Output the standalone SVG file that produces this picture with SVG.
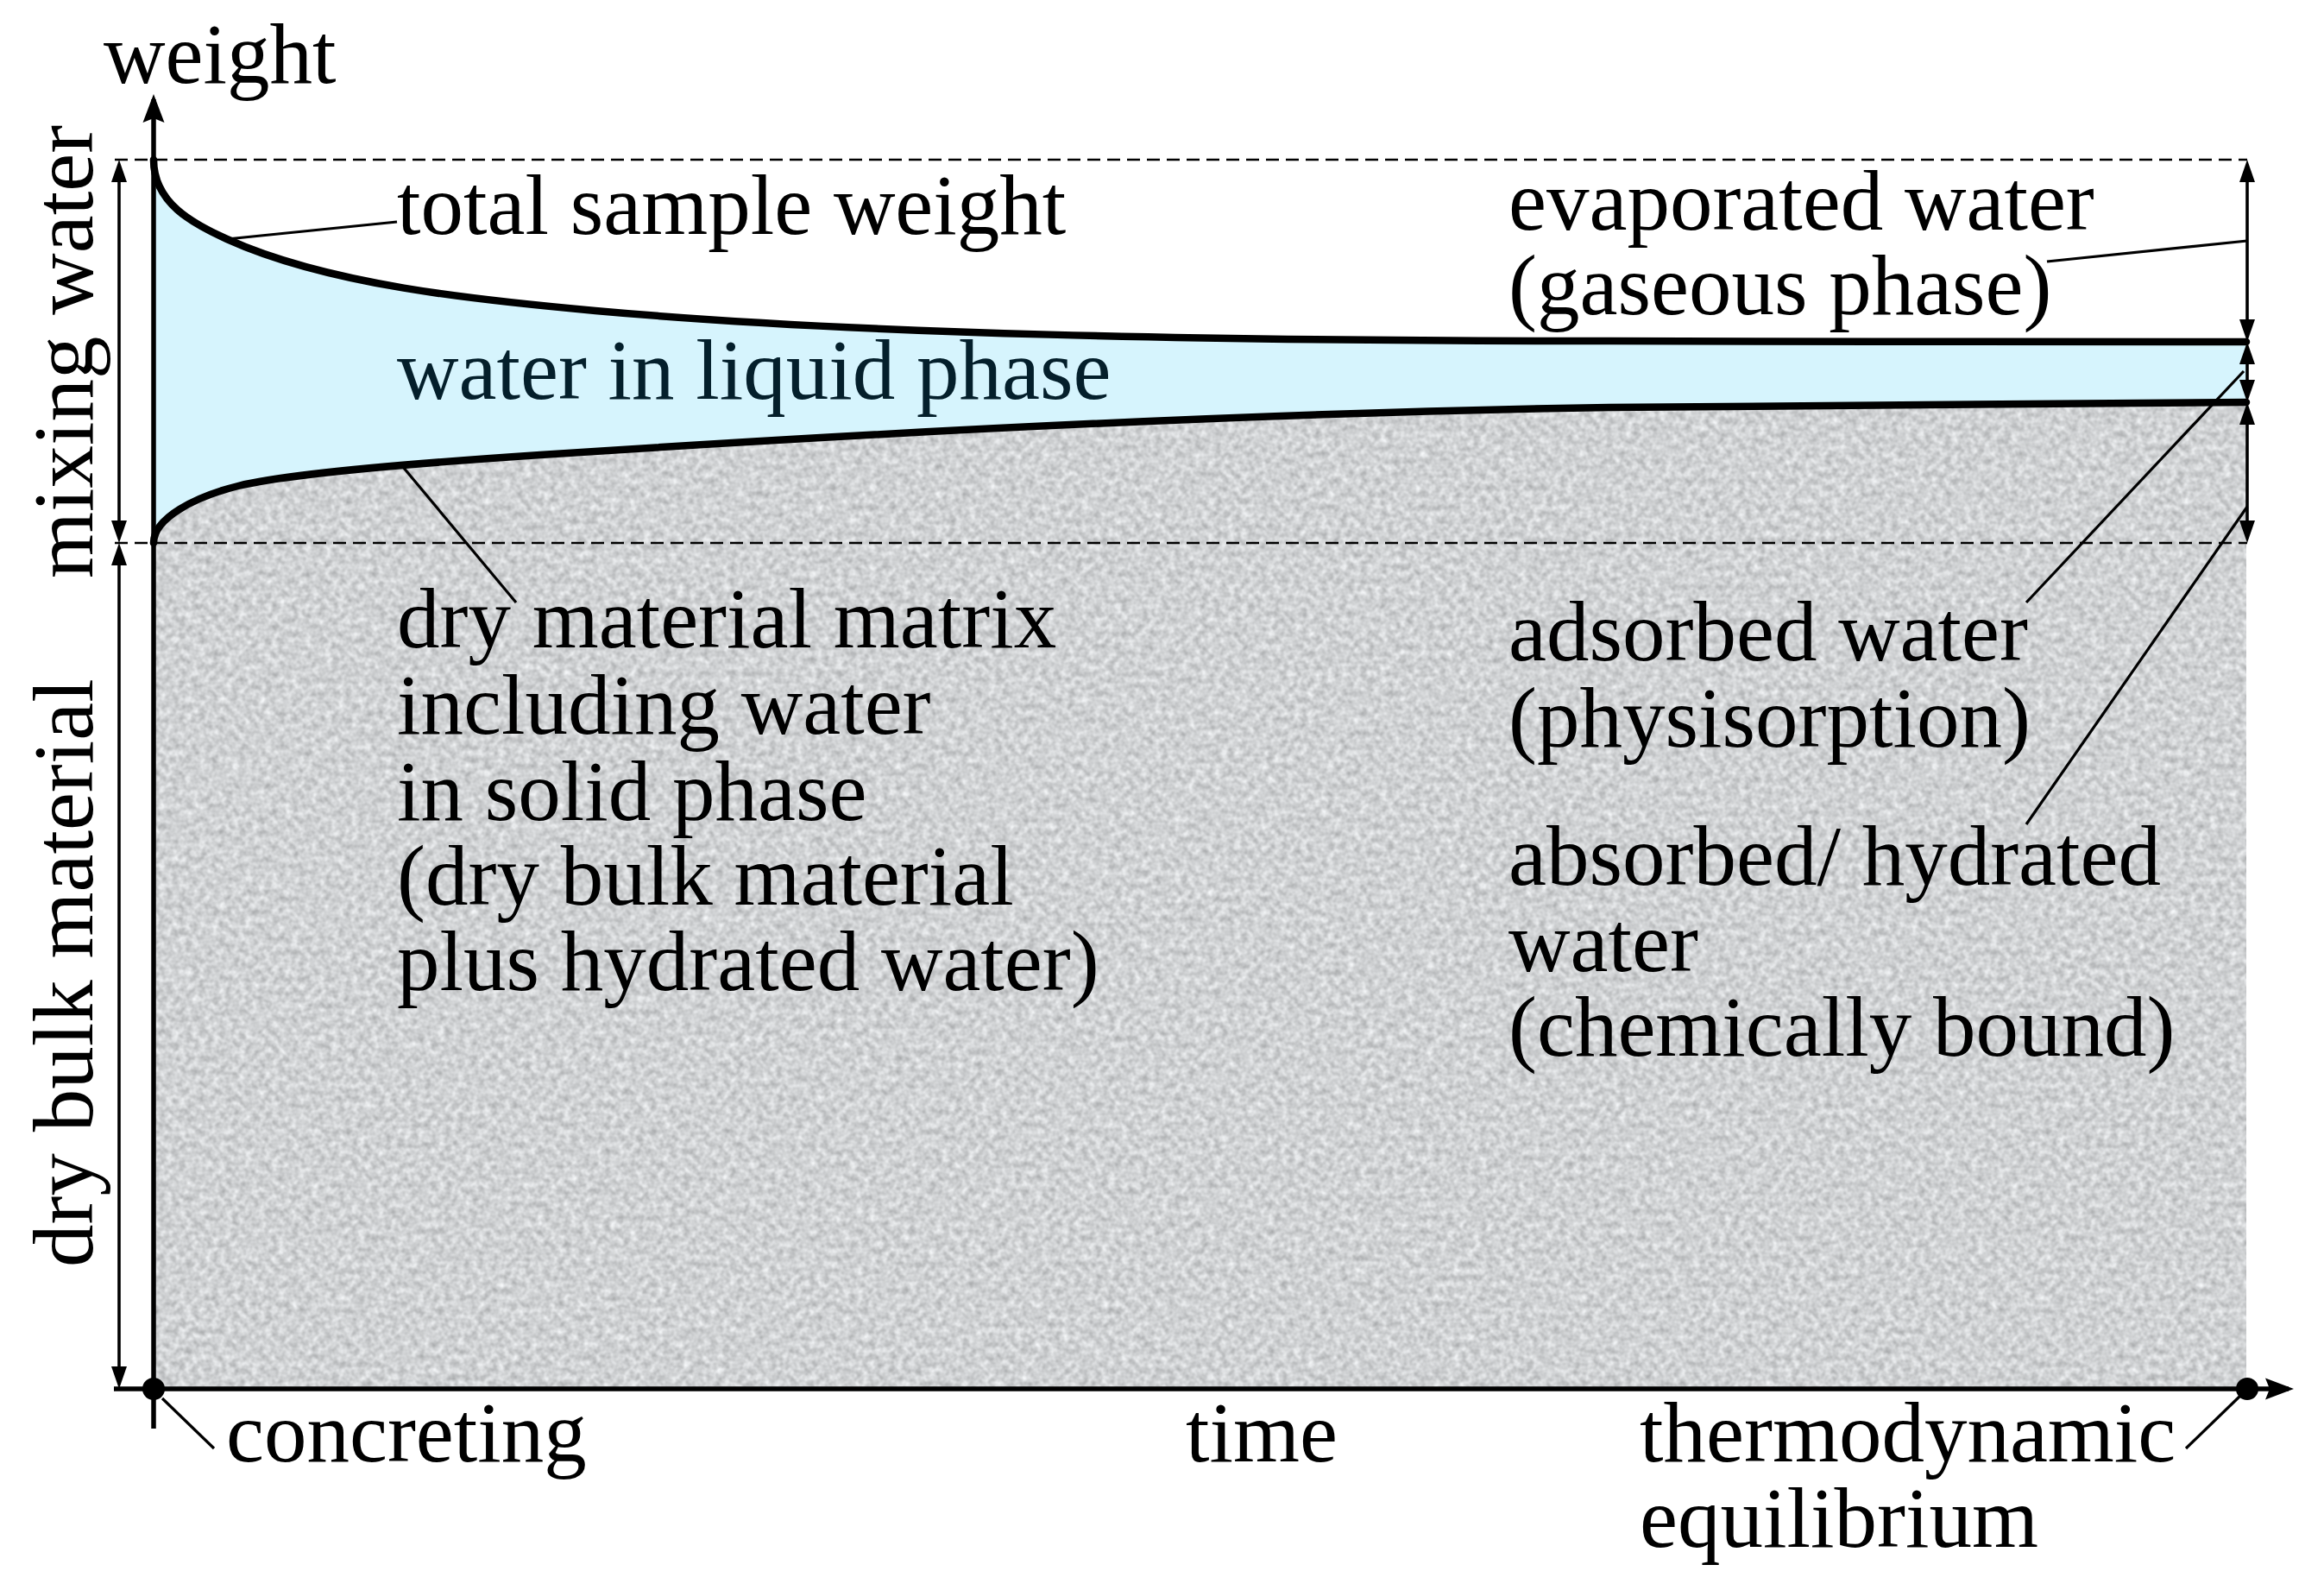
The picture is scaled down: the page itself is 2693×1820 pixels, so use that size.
<svg xmlns="http://www.w3.org/2000/svg" width="2693" height="1820" viewBox="0 0 2693 1820">
<style>
.t{font-family:"Liberation Serif","Times New Roman",serif;font-size:99px;fill:#000}
.tw{fill:#041f2b}
.ln{stroke:#000;fill:none}
.dash{stroke:#000;stroke-width:2.6;stroke-dasharray:15 8;fill:none}
.lead{stroke:#000;stroke-width:3.2;fill:none}
.dim{stroke:#000;stroke-width:3.6;fill:none;marker-start:url(#ah);marker-end:url(#ah)}
.curve{stroke:#000;stroke-width:8.5;fill:none;stroke-linecap:round}
</style>
<defs>
<marker id="ah" markerUnits="userSpaceOnUse" markerWidth="26" markerHeight="18" refX="20" refY="9" orient="auto-start-reverse" overflow="visible">
<path d="M0,0 L26,9 L0,18 z" fill="#000"/>
</marker>
<marker id="ax" markerUnits="userSpaceOnUse" markerWidth="33" markerHeight="25" refX="27" refY="12.5" orient="auto" overflow="visible">
<path d="M0,0 L33,12.5 L0,25 L5,12.5 z" fill="#000"/>
</marker>
<filter id="grain" x="0" y="0" width="100%" height="100%" filterUnits="userSpaceOnUse" color-interpolation-filters="sRGB">
<feTurbulence type="fractalNoise" baseFrequency="0.13" numOctaves="2" seed="7" result="n"/>
<feColorMatrix in="n" type="matrix" values="0.35 0 0 0 0.64  0.35 0 0 0 0.648  0.35 0 0 0 0.655  0 0 0 0 1"/>
</filter>
<clipPath id="greyClip">
<path d="M178,629 C178,600 226,575.5 276,563 C336,548 506,535 626,527 C1026,500.6 1465,478 1865,472 C2150,468 2400,466 2603,466 L2603,1609 L178,1609 Z"/>
</clipPath>
</defs>

<g id="regions">
<path id="liquid" d="M178,185 C178,235 223,259 263,277 C380,330 550,347.4 690,360 C990,387 1400,395 1865,395 C2100,396 2400,396 2603,396 L2603,466 C2400,466 2150,468 1865,472 C1465,478 1026,500.6 626,527 C506,535 336,548 276,563 C226,575.5 178,600 178,629 Z" fill="#d6f4fd"/>
<g id="solid" clip-path="url(#greyClip)">
<rect x="170" y="450" width="2440" height="1170" fill="#c9cbcd" filter="url(#grain)"/>
</g>
</g>

<g id="connectors">
<line class="dash" x1="133" y1="185" x2="2604" y2="185"/>
<line class="dash" x1="133" y1="629" x2="2604" y2="629"/>
<path class="curve" d="M178,185 C178,235 223,259 263,277 C380,330 550,347.4 690,360 C990,387 1400,395 1865,395 C2100,396 2400,396 2603,396"/>
<path class="curve" d="M178,629 C178,600 226,575.5 276,563 C336,548 506,535 626,527 C1026,500.6 1465,478 1865,472 C2150,468 2400,466 2603,466"/>
<line class="ln" stroke-width="5.5" x1="178" y1="1655" x2="178" y2="115" marker-end="url(#ax)"/>
<line class="ln" stroke-width="5.5" x1="132" y1="1609" x2="2652" y2="1609" marker-end="url(#ax)"/>
<line class="dim" x1="138" y1="191" x2="138" y2="623"/>
<line class="dim" x1="138" y1="635" x2="138" y2="1603"/>
<line class="dim" x1="2604" y1="191" x2="2604" y2="390"/>
<line class="dim" x1="2604" y1="402" x2="2604" y2="460"/>
<line class="dim" x1="2604" y1="472" x2="2604" y2="623"/>
<line class="lead" x1="263" y1="277" x2="460" y2="257"/>
<line class="lead" x1="467" y1="541" x2="598" y2="698"/>
<line class="lead" x1="2372" y1="303" x2="2604" y2="279"/>
<line class="lead" x1="2348" y1="698" x2="2600" y2="430"/>
<line class="lead" x1="2348" y1="955" x2="2604" y2="587"/>
<line class="lead" x1="188" y1="1620" x2="248" y2="1678"/>
<line class="lead" x1="2596" y1="1617" x2="2533" y2="1678"/>
<circle cx="178" cy="1609" r="13" fill="#000"/>
<circle cx="2604" cy="1609" r="13" fill="#000"/>
</g>

<g id="axis-labels">
<text class="t" x="120" y="96">weight</text>
<text class="t" transform="translate(107,670) rotate(-90)">mixing water</text>
<text class="t" transform="translate(107,1468) rotate(-90)">dry bulk material</text>
<text class="t" x="262" y="1693">concreting</text>
<text class="t" x="1374" y="1693">time</text>
<text class="t" x="1900" y="1693">thermodynamic</text>
<text class="t" x="1900" y="1792">equilibrium</text>
</g>

<g id="label-total"><text class="t" x="460" y="271">total sample weight</text></g>
<g id="label-liquid"><text class="t tw" x="460" y="462">water in liquid phase</text></g>
<g id="label-evaporated">
<text class="t" x="1748" y="266">evaporated water</text>
<text class="t" x="1748" y="364">(gaseous phase)</text>
</g>
<g id="label-matrix">
<text class="t" x="460" y="750">dry material matrix</text>
<text class="t" x="460" y="850">including water</text>
<text class="t" x="460" y="950">in solid phase</text>
<text class="t" x="460" y="1048">(dry bulk material</text>
<text class="t" x="460" y="1147">plus hydrated water)</text>
</g>
<g id="label-adsorbed">
<text class="t" x="1748" y="765">adsorbed water</text>
<text class="t" x="1748" y="865">(physisorption)</text>
</g>
<g id="label-absorbed">
<text class="t" x="1748" y="1025">absorbed/ hydrated</text>
<text class="t" x="1748" y="1125">water</text>
<text class="t" x="1748" y="1223">(chemically bound)</text>
</g>
</svg>
